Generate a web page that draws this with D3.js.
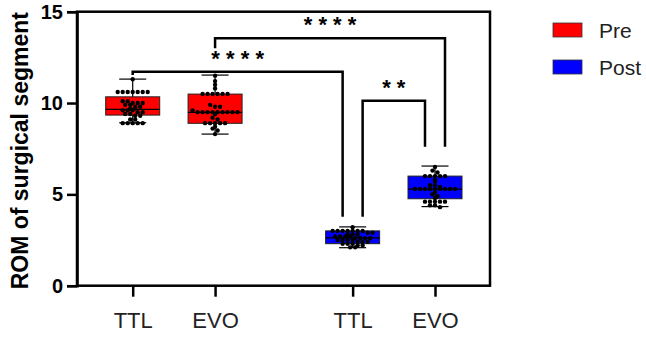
<!DOCTYPE html>
<html>
<head>
<meta charset="utf-8">
<script src="https://cdn.jsdelivr.net/npm/d3@7"></script>
<style>
  body { margin: 0; background: #fff; }
  svg { font-family: "Liberation Sans", Arial, sans-serif; }
</style>
</head>
<body>
<div id="chart"></div>
<script>
// groups along the x axis
const groups = ["TTL", "EVO", "TTL", "EVO"];
const phases = ["Pre", "Pre", "Post", "Post"];
const slots = [0, 1, 2.67, 3.67];

// box stats: [min, q1, median, q3, max]
const boxStats = [
  [8.92, 9.34, 9.65, 10.34, 11.31],
  [8.30, 8.89, 9.49, 10.49, 11.53],
  [2.08, 2.30, 2.62, 3.00, 3.22],
  [4.33, 4.76, 5.29, 6.00, 6.55]
];

// individual points
const ttlPre = [11.3, 10.6, 10.6, 10.6, 10.6, 10.6, 10.6, 10.6, 10.1, 10.1, 10.0, 10.0, 10.0, 9.9, 9.9,
  9.8, 9.8, 9.7, 9.7, 9.6, 9.6, 9.6, 9.5, 9.5, 9.4, 9.4, 9.3, 9.3, 9.1, 9.1, 8.9, 8.9, 8.9, 8.9, 8.9];
const evoPre = [11.5, 11.2, 11.0, 10.8, 10.5, 10.5, 10.5, 10.5, 10.5, 10.5, 9.9, 9.8, 9.8, 9.6,
  9.5, 9.5, 9.5, 9.5, 9.5, 9.5, 9.5, 9.5, 9.5, 9.4, 9.2, 9.1, 8.9, 8.9, 8.9, 8.9, 8.9, 8.7, 8.6, 8.5, 8.3];
const ttlPost = [3.2, 3.0, 3.0, 3.0, 3.0, 3.0, 3.0, 3.0, 2.9, 2.9, 2.8, 2.8, 2.8, 2.7, 2.7, 2.7, 2.7,
  2.6, 2.6, 2.6, 2.6, 2.5, 2.5, 2.5, 2.5, 2.4, 2.4, 2.4, 2.3, 2.3, 2.3, 2.2, 2.2, 2.1, 2.1];
const evoPost = [6.5, 6.3, 6.2, 6.0, 6.0, 6.0, 6.0, 6.0, 5.8, 5.7, 5.5, 5.5, 5.4, 5.3, 5.3, 5.3, 5.3,
  5.3, 5.3, 5.3, 5.3, 5.3, 5.1, 5.0, 4.9, 4.8, 4.6, 4.6, 4.6, 4.6, 4.6, 4.4, 4.4, 4.3];
const points = [ttlPre, evoPre, ttlPost, evoPost];

const yTicks = [0, 5, 10, 15];

// significance brackets: [from group, to group, level, left leg end, right leg end, label]
const brackets = [
  [0, 2, 11.71, 11.53, 3.78, "* * * *"],
  [1, 3, 13.54, 13.0, 7.61, "* * * *"],
  [2, 3, 10.13, 3.78, 7.61, "* *"]
];
const bracketSide = [[0, -1], [0, 1], [1, -1]];

const legendKeys = ["Pre", "Post"];
const colors = { Pre: "#ff0000", Post: "#0000ff" };

const width = 646, height = 337;
const mLeft = 77, mRight = 490, mTop = 11.7, mBottom = 285.7;

const svg = d3.select("#chart").append("svg")
  .attr("width", width).attr("height", height);

const y = d3.scaleLinear().domain([0, 15]).range([mBottom, mTop]);
const x = d3.scaleLinear().domain([0, 3.67]).range([132.7, 435]);
const boxW = 54;

// frame
svg.append("rect")
  .attr("x", mLeft).attr("y", mTop)
  .attr("width", mRight - mLeft).attr("height", mBottom - mTop)
  .attr("fill", "none").attr("stroke", "#000").attr("stroke-width", 2.5);

// y axis
const yAxis = svg.append("g")
  .attr("transform", `translate(${mLeft},0)`)
  .call(d3.axisLeft(y).tickValues(yTicks).tickSize(10).tickPadding(4));
yAxis.select(".domain").attr("stroke-width", 2.5);
yAxis.selectAll(".tick line").attr("stroke-width", 2.5);
yAxis.selectAll(".tick text")
  .attr("font-size", 20).attr("font-weight", "bold")
  .attr("font-family", "Liberation Sans, Arial, sans-serif").attr("fill", "#000");

// x axis
const xAxis = svg.append("g")
  .attr("transform", `translate(0,${mBottom})`)
  .call(d3.axisBottom(x).tickValues(slots).tickFormat((d, i) => groups[i]).tickSize(11).tickPadding(16));
xAxis.select(".domain").remove();
xAxis.selectAll(".tick line").attr("stroke-width", 2.5);
xAxis.selectAll(".tick text")
  .attr("font-size", 22)
  .attr("font-family", "Liberation Sans, Arial, sans-serif").attr("fill", "#222");

svg.append("text")
  .attr("transform", `translate(28,${(mTop + mBottom) / 2 + 2}) rotate(-90)`)
  .attr("text-anchor", "middle")
  .attr("font-size", 23).attr("font-weight", "bold")
  .text("ROM of surgical segment");

// boxes
const box = svg.append("g").selectAll("g")
  .data(boxStats)
  .join("g")
  .attr("transform", (d, i) => `translate(${x(slots[i])},0)`);

box.append("line")
  .attr("y1", d => y(d[0])).attr("y2", d => y(d[4]))
  .attr("stroke", "#000").attr("stroke-width", 1.2);
box.append("rect")
  .attr("x", -boxW / 2).attr("width", boxW)
  .attr("y", d => y(d[3])).attr("height", d => y(d[1]) - y(d[3]))
  .attr("fill", (d, i) => colors[phases[i]])
  .attr("stroke", "#222").attr("stroke-width", 1);
box.append("line")
  .attr("x1", -boxW / 2).attr("x2", boxW / 2)
  .attr("y1", d => y(d[2])).attr("y2", d => y(d[2]))
  .attr("stroke", "#000").attr("stroke-width", 1.2);
box.selectAll(".cap")
  .data(d => [d[0], d[4]])
  .join("line")
  .attr("class", "cap")
  .attr("x1", -boxW / 4).attr("x2", boxW / 4)
  .attr("y1", d => y(d)).attr("y2", d => y(d))
  .attr("stroke", "#000").attr("stroke-width", 1.2);

// dots, spread sideways when they share a row
box.each(function (d, i) {
  const rows = d3.group(points[i], v => Math.round(y(v) / 3.5));
  const dots = [];
  for (const [, vals] of rows) {
    vals.forEach((v, j) => dots.push({ v, dx: (j - (vals.length - 1) / 2) * 5 }));
  }
  d3.select(this).selectAll("circle")
    .data(dots)
    .join("circle")
    .attr("cx", p => p.dx)
    .attr("cy", p => y(p.v))
    .attr("r", 2.2)
    .attr("fill", "#000");
});

// brackets
const br = svg.append("g").selectAll("g").data(brackets).join("g");
br.append("path")
  .attr("d", (d, i) => {
    const x1 = x(slots[d[0]]) + bracketSide[i][0] * 10;
    const x2 = x(slots[d[1]]) + bracketSide[i][1] * 10;
    return `M${x1},${y(d[3])}V${y(d[2])}H${x2}V${y(d[4])}`;
  })
  .attr("fill", "none").attr("stroke", "#000").attr("stroke-width", 2.5);
br.append("text")
  .attr("x", (d, i) => (x(slots[d[0]]) + bracketSide[i][0] * 10 + x(slots[d[1]]) + bracketSide[i][1] * 10) / 2)
  .attr("y", d => y(d[2]) - 6)
  .attr("text-anchor", "middle")
  .attr("font-size", 22).attr("font-weight", "bold")
  .text(d => d[5]);

// legend
const lg = svg.append("g").selectAll("g").data(legendKeys).join("g")
  .attr("transform", (d, i) => `translate(553,${23 + i * 37})`);
lg.append("rect")
  .attr("width", 29).attr("height", 14)
  .attr("fill", d => colors[d]).attr("stroke", "#333").attr("stroke-width", 0.8);
lg.append("text")
  .attr("x", 46).attr("y", 14.5)
  .attr("font-size", 21).attr("fill", "#222")
  .text(d => d);
</script>
</body>
</html>
